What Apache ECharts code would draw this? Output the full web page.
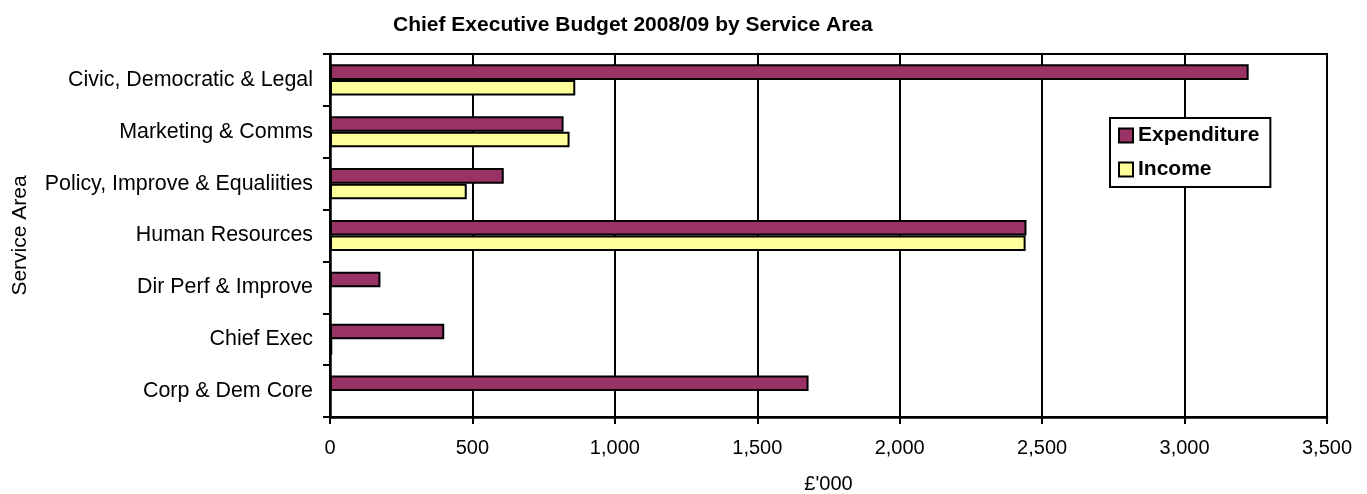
<!DOCTYPE html>
<html>
<head>
<meta charset="utf-8">
<script src="https://cdn.jsdelivr.net/npm/echarts@6/dist/echarts.min.js"></script>
<style>
  html, body { margin: 0; padding: 0; background: #ffffff; }
  #chart { width: 1367px; height: 494px; }
</style>
</head>
<body>
<div id="chart"></div>
<script>
// service areas, listed top to bottom as in the chart
const categories = [
  "Civic, Democratic & Legal",
  "Marketing & Comms",
  "Policy, Improve & Equaliities",
  "Human Resources",
  "Dir Perf & Improve",
  "Chief Exec",
  "Corp & Dem Core"
];
const expenditure = [3225, 820, 610, 2445, 177, 401, 1680];
const income = [861, 841, 480, 2442, 0, 8, 0];
const xTicks = [0, 500, 1000, 1500, 2000, 2500, 3000, 3500];

const font = "Liberation Sans";
const chart = echarts.init(document.getElementById("chart"), null, { renderer: "canvas" });

chart.setOption({
  animation: false,
  backgroundColor: "#ffffff",
  title: {
    text: "Chief Executive Budget 2008/09 by Service Area",
    left: 393,
    top: 15,
    padding: 0,
    textStyle: { fontFamily: font, fontSize: 21, fontWeight: "bold", color: "#000" }
  },
  legend: {
    orient: "vertical",
    left: 1110,
    top: 118,
    padding: [7, 11, 7, 8],
    itemWidth: 14,
    itemHeight: 14,
    itemGap: 13,
    icon: "rect",
    borderColor: "#000",
    borderWidth: 2,
    backgroundColor: "#fff",
    textStyle: { fontFamily: font, fontSize: 21, fontWeight: "bold", color: "#000" },
    data: ["Expenditure", "Income"]
  },
  grid: {
    left: 330,
    right: 40,
    top: 54,
    bottom: 77,
    outerBoundsMode: "none",
    show: true,
    borderColor: "#000",
    borderWidth: 2,
    backgroundColor: "#fff"
  },
  xAxis: {
    type: "value",
    min: xTicks[0],
    max: xTicks[xTicks.length - 1],
    interval: 500,
    name: "£'000",
    nameLocation: "middle",
    nameGap: 57,
    nameTextStyle: { fontFamily: font, fontSize: 20, color: "#000" },
    axisLine: { show: true, lineStyle: { color: "#000", width: 2.5 } },
    axisTick: { show: true, length: 7, lineStyle: { color: "#000", width: 2 } },
    axisLabel: {
      margin: 21,
      fontFamily: font,
      fontSize: 20,
      color: "#000",
      formatter: v => v.toLocaleString("en-GB")
    },
    splitLine: { show: true, lineStyle: { color: "#000", width: 2 } }
  },
  yAxis: {
    type: "category",
    inverse: true,
    data: categories,
    name: "Service Area",
    nameLocation: "middle",
    nameGap: 299,
    nameTextStyle: { fontFamily: font, fontSize: 21, color: "#000" },
    axisLine: { show: true, lineStyle: { color: "#000", width: 2.5 } },
    axisTick: { show: true, length: 7, lineStyle: { color: "#000", width: 2 } },
    axisLabel: { margin: 17, fontFamily: font, fontSize: 21.4, color: "#000" },
    splitLine: { show: false }
  },
  series: [
    {
      name: "Expenditure",
      type: "bar",
      data: expenditure,
      barGap: "0%",
      barCategoryGap: "40%",
      itemStyle: { color: "#993366", borderColor: "#000", borderWidth: 2 }
    },
    {
      name: "Income",
      type: "bar",
      data: income,
      barGap: "0%",
      barCategoryGap: "40%",
      itemStyle: { color: "#ffff99", borderColor: "#000", borderWidth: 2 }
    }
  ]
});
</script>
</body>
</html>
